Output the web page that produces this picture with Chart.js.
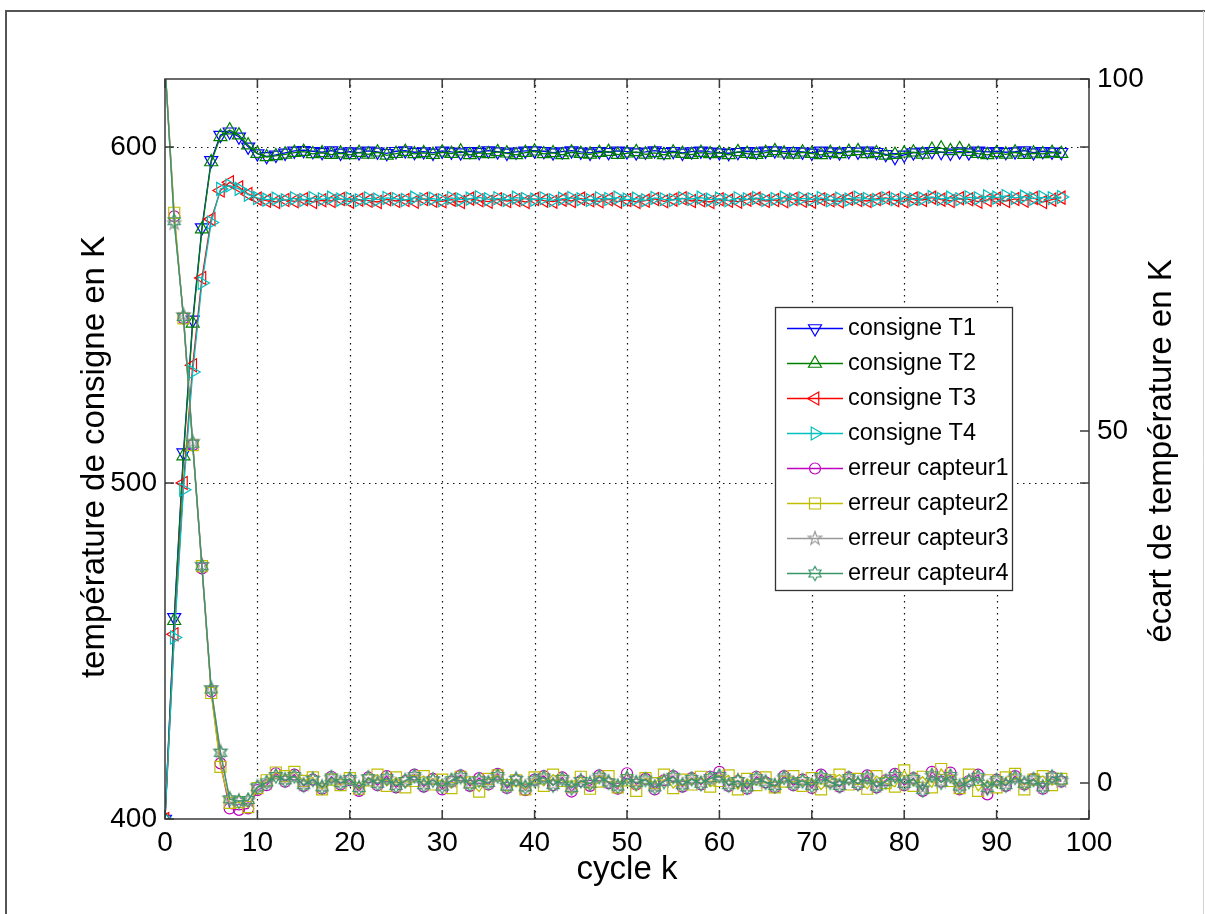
<!DOCTYPE html>
<html>
<head>
<meta charset="utf-8">
<script src="https://cdn.jsdelivr.net/npm/chart.js@4.4.1/dist/chart.umd.min.js"></script>
<style>
html,body{margin:0;padding:0;background:#fff;overflow:hidden}
#wrap{position:absolute;left:0;top:0;width:1205px;height:914px}
</style>
</head>
<body>
<div id="wrap"><canvas id="c" width="1205" height="914"></canvas></div>
<script>
// ---------- data ----------
const cycles = Array.from({length: 98}, (_, i) => i);   // cycle k = 0..97

const xTicks = [0, 10, 20, 30, 40, 50, 60, 70, 80, 90, 100];
const leftTicks = [400, 500, 600];
const rightTicks = [0, 50, 100];

const seriesLabels = ['consigne T1', 'consigne T2', 'consigne T3', 'consigne T4',
  'erreur capteur1', 'erreur capteur2', 'erreur capteur3', 'erreur capteur4'];

const consigneT1 = [
  400, 460, 509, 548.5, 576, 596, 603.5, 604.5, 603, 600,
  598, 597.2, 597.6, 598.2, 598.8, 599, 598.7, 598.4, 598.9, 598.2,
  598.6, 598.3, 598.8, 598.5, 598.1, 598.7, 598.9, 598.4, 598.6, 598.2,
  598.8, 598.5, 598.3, 598.7, 598.4, 598.9, 598.6, 598.2, 598.5, 598.8,
  598.9, 598.7, 598.3, 598.6, 598.9, 598.5, 598.2, 598.7, 598.4, 598.8,
  598.6, 598.3, 598.5, 598.9, 598.4, 598.7, 598.2, 598.6, 598.8, 598.5,
  598.3, 598.1, 598.4, 598.7, 598.5, 598.8, 598.9, 598.6, 598.7, 598.5,
  598.2, 598.8, 598.6, 598.3, 598.7, 598.5, 598.8, 598.4, 597.8, 596.9,
  597.6, 598.3, 598.5, 598.7, 598.4, 598.2, 598.6, 598.3, 598.8, 598.5,
  598.7, 598.4, 598.6, 598.9, 598.3, 598.7, 598.5, 598.4
];
const consigneT2 = [
  400, 459, 508, 547.5, 575.5, 595.5, 603, 605, 603.5, 600.5,
  598, 597, 597.3, 597.8, 598.3, 598.6, 597.9, 598.2, 597.7, 598.1,
  597.6, 598.3, 597.8, 598.4, 597.5, 598.0, 598.6, 597.9, 598.2, 597.7,
  598.4, 598.0, 598.7, 597.6, 598.2, 597.9, 598.5, 598.1, 597.6, 598.3,
  598.7, 597.9, 598.2, 597.6, 598.4, 598.0, 597.8, 598.3, 598.6, 597.7,
  598.1, 598.5, 597.8, 598.2, 597.6, 598.4, 598.0, 597.7, 598.3, 597.9,
  598.2, 597.6, 598.5, 598.0, 597.7, 598.3, 598.8, 598.1, 597.8, 598.4,
  598.0, 597.6, 598.3, 597.9, 598.6, 598.8, 597.9, 598.2, 597.5, 597.7,
  598.1, 598.4, 597.8, 599.2, 599.6, 598.8, 599.4, 598.6, 598.0, 597.6,
  598.2, 597.8, 598.4, 597.7, 598.1, 597.9, 598.3, 598.0
];
const consigneT3 = [
  400, 455, 500, 535, 561, 578.5, 587, 589.5, 588, 586,
  584.6, 584.0, 583.6, 584.2, 583.8, 584.4, 583.6, 584.1, 583.9, 584.5,
  583.7, 584.3, 584.0, 583.6, 584.4, 583.9, 584.2, 583.7, 584.5, 584.0,
  583.8, 584.3, 583.6, 584.6, 584.1, 583.7, 584.4, 583.9, 584.2, 583.6,
  584.5, 584.0, 583.7, 584.3, 583.9, 584.6, 584.1, 583.8, 584.4, 583.7,
  584.2, 583.6, 584.0, 584.5, 583.8, 584.3, 584.7, 583.9, 584.1, 583.6,
  584.4, 584.0, 583.7, 584.3, 584.6, 583.9, 584.2, 583.8, 584.5, 584.0,
  583.7, 584.4, 584.1, 583.8, 584.6, 584.2, 583.9, 584.5, 584.8, 584.1,
  583.8, 584.6, 584.2, 584.9, 584.3, 583.9, 584.7, 584.4, 583.7, 584.2,
  584.6, 583.9, 584.5, 584.0, 584.8, 583.6, 584.3, 584.9
];
const consigneT4 = [
  400, 454, 498, 533, 559.5, 577.5, 587.5, 588.5, 587.5, 585.8,
  584.8, 584.3, 584.6, 584.1, 584.7, 584.2, 584.8, 584.4, 584.9, 584.3,
  584.6, 584.1, 584.7, 584.3, 584.8, 584.5, 584.2, 584.9, 584.4, 584.6,
  584.1, 584.8, 584.3, 584.6, 585.0, 584.4, 584.7, 584.2, 584.9, 584.5,
  584.3, 584.7, 584.1, 584.6, 584.8, 584.4, 584.2, 584.7, 584.5, 584.9,
  584.3, 584.6, 584.1, 584.8, 584.4, 584.2, 584.7, 584.5, 584.9, 584.3,
  584.6, 584.1, 584.7, 584.4, 584.8, 584.2, 584.5, 584.9, 584.3, 584.7,
  584.4, 584.8, 584.1, 584.6, 584.3, 584.9, 584.5, 584.2, 584.7, 584.4,
  584.8, 584.3, 584.6, 585.1, 584.5, 584.9, 584.4, 585.0, 584.7, 585.3,
  584.9, 585.4, 584.8, 585.2, 584.6, 585.0, 584.7, 585.1
];
const erreurCapteur1 = [
  102, 80.5, 66, 48, 30.5, 13, 2.8, -3.6, -3.8, -3.6,
  -1.0, -0.3, 1.4, 0.2, 1.2, -0.4, 0.5, -0.8, 0.9, -0.2,
  0.4, -1.1, 0.8, -0.3, 1.0, -0.6, 0.3, 1.2, -0.5, 0.6,
  -0.9, 0.2, 1.1, -0.4, 0.7, -0.2, 1.3, -0.7, 0.4, -1.0,
  0.5, 1.0, -0.3, 0.8, -1.2, 0.3, -0.4, 1.1, 0.0, -0.8,
  1.4, -0.2, 0.6, -0.9, 0.4, 1.0, -0.5, 0.7, -0.2, 0.9,
  1.6, -0.4, 0.3, -0.8, 0.9, 0.1, -0.6, 1.0, -0.3, 0.5,
  -0.7, 1.2, 0.2, -0.5, 0.8, -0.2, 1.1, -0.6, 0.4, 1.3,
  -0.3, 0.7, -1.1, 1.6, 0.2, 1.5, -0.9, 0.3, 1.2, -1.6,
  0.5, -0.4, 1.0, -0.2, 0.6, -0.8, 0.9, 0.2
];
const erreurCapteur2 = [
  102, 81, 66, 48, 30.8, 12.8, 2.3, -2.8, -2.7, -3.4,
  -0.7, 0.4, 1.5, 1.0, 1.6, 0.3, 0.8, -0.9, 0.5, -0.3,
  0.7, -0.8, 0.4, 1.2, -0.4, 0.8, -0.6, 0.3, 1.0, -0.2,
  0.5, -0.7, 0.9, 0.1, -1.2, 0.6, 1.1, -0.3, 0.4, -0.9,
  0.8, -0.4, 1.2, 0.3, -0.5, 0.9, -0.8, 0.2, 1.0, -0.6,
  0.4, -1.1, 0.7, 0.0, 1.2, -0.7, 0.5, -0.2, 0.9, -0.5,
  0.3, 1.1, -0.9, 0.6, -0.3, 0.8, -0.6, 0.2, 1.0, -0.4,
  0.7, -0.9, 0.4, 1.2, -0.2, 0.6, -0.8, 1.0, 0.0, -0.5,
  1.8, -0.4, 0.9, -0.6, 2.0, 0.3, -0.7, 1.2, -1.1, 0.4,
  -0.6, 0.8, 1.3, -0.9, 0.5, 1.0, -0.3, 0.6
];
const erreurCapteur3 = [
  102, 79.5, 66.5, 48.5, 31, 13.5, 4.5, -2.2, -2.5, -2.5,
  -0.5, 0.0, 1.1, 0.5, 0.9, -0.2, 0.6, -0.5, 0.7, 0.1,
  0.5, -0.6, 0.8, 0.0, 0.6, -0.3, 0.4, 0.9, -0.2, 0.5,
  -0.4, 0.3, 0.8, -0.1, 0.5, 0.1, 0.9, -0.4, 0.6, -0.5,
  0.3, 0.7, -0.2, 0.5, -0.6, 0.4, 0.0, 0.8, 0.2, -0.4,
  0.6, 0.1, 0.4, -0.5, 0.3, 0.8, -0.2, 0.5, 0.0, 0.6,
  0.9, -0.2, 0.4, -0.5, 0.6, 0.2, -0.3, 0.7, 0.0, 0.4,
  -0.3, 0.8, 0.2, -0.3, 0.6, 0.0, 0.7, -0.4, 0.3, 0.9,
  0.0, 0.5, -0.7, 1.0, 0.2, 0.9, -0.4, 0.3, 0.8, -0.6,
  0.3, -0.2, 0.7, 0.0, 0.4, -0.5, 0.6, 0.3
];
const erreurCapteur4 = [
  102, 79.8, 66.2, 48.2, 30.8, 13.3, 4.3, -2.3, -2.6, -2.4,
  -0.6, 0.1, 1.0, 0.4, 1.0, -0.3, 0.5, -0.6, 0.8, 0.0,
  0.6, -0.7, 0.7, -0.1, 0.7, -0.4, 0.3, 1.0, -0.3, 0.4,
  -0.5, 0.4, 0.9, -0.2, 0.4, 0.0, 1.0, -0.5, 0.5, -0.6,
  0.4, 0.8, -0.3, 0.6, -0.7, 0.3, -0.1, 0.9, 0.1, -0.5,
  0.7, 0.0, 0.5, -0.6, 0.2, 0.9, -0.3, 0.6, -0.1, 0.7,
  1.0, -0.3, 0.3, -0.6, 0.7, 0.1, -0.4, 0.8, -0.1, 0.3,
  -0.4, 0.9, 0.1, -0.4, 0.7, -0.1, 0.8, -0.5, 0.2, 1.0,
  -0.1, 0.6, -1.0, 1.1, 0.1, 1.0, -0.5, 0.2, 0.9, -0.7,
  0.4, -0.3, 0.8, -0.1, 0.5, -0.6, 0.9, 0.4
];

// ---------- styles ----------
const FONT = '"Liberation Sans", Arial, Helvetica, sans-serif';
const TICK_SIZE = 28, TITLE_SIZE = 33, LEGEND_SIZE = 23.5;

function starCanvas(points, innerRatio, color, R) {
  const s = Math.ceil(2 * R + 4);
  const c = document.createElement('canvas');
  c.width = s; c.height = s;
  const g = c.getContext('2d');
  g.strokeStyle = color; g.lineWidth = 1.2;
  g.beginPath();
  for (let i = 0; i < 2 * points; i++) {
    const r = i % 2 ? innerRatio * R : R;
    const ang = -Math.PI / 2 + i * Math.PI / points;
    const px = s / 2 + r * Math.cos(ang), py = s / 2 + r * Math.sin(ang);
    if (i) g.lineTo(px, py); else g.moveTo(px, py);
  }
  g.closePath(); g.stroke();
  return c;
}

const colors = ['#0000ff', '#008000', '#ff0000', '#00bfbf', '#bf00bf', '#bfbf00', '#999999', '#3a9669'];
const pentagram = starCanvas(5, 0.40, colors[6], 7);
const hexagram = starCanvas(6, 0.58, colors[7], 7);
const markerStyles = ['triangle', 'triangle', 'triangle', 'triangle', 'circle', 'rect', pentagram, hexagram];
const markerRot = [180, 0, 270, 90, 0, 0, 0, 0];
const markerRadius = [7.5, 7.5, 7.5, 7.5, 5.5, 7.8, 7, 7];

const seriesValues = [consigneT1, consigneT2, consigneT3, consigneT4,
  erreurCapteur1, erreurCapteur2, erreurCapteur3, erreurCapteur4];

const datasets = seriesValues.map((vals, i) => ({
  label: seriesLabels[i],
  data: vals.map((v, k) => ({x: cycles[k], y: v})),
  yAxisID: i < 4 ? 'yL' : 'yR',
  borderColor: colors[i],
  backgroundColor: 'rgba(0,0,0,0)',
  borderWidth: 1.3,
  pointStyle: markerStyles[i],
  pointRotation: markerRot[i],
  pointRadius: markerRadius[i],
  pointBorderColor: colors[i],
  pointBackgroundColor: 'rgba(0,0,0,0)',
  pointBorderWidth: 1.2,
  tension: 0,
  fill: false,
  order: 7 - i,
  clip: i < 4 ? undefined : {left: 8, right: 8, top: 0, bottom: 8}
}));

function drawMarker(ctx, style, rot, r, x, y, color) {
  if (typeof style !== 'string') {
    ctx.drawImage(style, x - style.width / 2, y - style.height / 2);
    return;
  }
  ctx.save();
  ctx.strokeStyle = color; ctx.lineWidth = 1.2;
  ctx.beginPath();
  if (style === 'triangle') {
    let rad = rot * Math.PI / 180;
    for (let j = 0; j < 3; j++) {
      const px = x + Math.sin(rad) * r, py = y - Math.cos(rad) * r;
      if (j) ctx.lineTo(px, py); else ctx.moveTo(px, py);
      rad += 2 * Math.PI / 3;
    }
    ctx.closePath();
  } else if (style === 'circle') {
    ctx.arc(x, y, r, 0, Math.PI * 2);
  } else if (style === 'rect') {
    const s = Math.SQRT1_2 * r;
    ctx.rect(x - s, y - s, 2 * s, 2 * s);
  }
  ctx.stroke();
  ctx.restore();
}

const decorPlugin = {
  id: 'decor',
  beforeDraw(chart) {
    const ctx = chart.ctx;
    ctx.save();
    ctx.fillStyle = '#fff';
    ctx.fillRect(0, 0, chart.width, chart.height);
    ctx.strokeStyle = '#555'; ctx.lineWidth = 2;
    ctx.beginPath(); ctx.moveTo(6, 914); ctx.lineTo(6, 11); ctx.lineTo(1205, 11); ctx.stroke();
    ctx.strokeStyle = '#d4d4d4'; ctx.lineWidth = 1;
    ctx.beginPath(); ctx.moveTo(1203.5, 11); ctx.lineTo(1203.5, 914); ctx.stroke();
    ctx.restore();
  },
  beforeDatasetsDraw(chart) {
    const {ctx, chartArea: a, scales} = chart;
    ctx.save();
    ctx.strokeStyle = '#111'; ctx.lineWidth = 1.2;
    ctx.setLineDash([1.5, 4.5]);
    ctx.beginPath();
    for (const v of xTicks) {
      if (v <= scales.x.min || v >= scales.x.max) continue;
      const px = Math.round(scales.x.getPixelForValue(v)) + 0.5;
      ctx.moveTo(px, a.top); ctx.lineTo(px, a.bottom);
    }
    for (const v of leftTicks) {
      if (v <= scales.yL.min || v >= scales.yL.max) continue;
      const py = Math.round(scales.yL.getPixelForValue(v)) + 0.5;
      ctx.moveTo(a.left, py); ctx.lineTo(a.right, py);
    }
    ctx.stroke();
    ctx.restore();
  },
  afterDatasetsDraw(chart) {
    const {ctx, chartArea: a, scales} = chart;
    ctx.save();
    ctx.setLineDash([]);
    // axes box
    ctx.strokeStyle = '#3a3a3a'; ctx.lineWidth = 1.5;
    ctx.strokeRect(a.left, a.top, a.right - a.left, a.bottom - a.top);
    // inward tick marks
    const TL = 9;
    ctx.beginPath();
    for (const v of xTicks) {
      const px = scales.x.getPixelForValue(v);
      ctx.moveTo(px, a.bottom); ctx.lineTo(px, a.bottom - TL);
      ctx.moveTo(px, a.top); ctx.lineTo(px, a.top + TL);
    }
    for (const v of leftTicks) {
      const py = scales.yL.getPixelForValue(v);
      ctx.moveTo(a.left, py); ctx.lineTo(a.left + TL, py);
      ctx.moveTo(a.right, py); ctx.lineTo(a.right - TL, py);
    }
    for (const v of rightTicks) {
      const py = scales.yR.getPixelForValue(v);
      ctx.moveTo(a.right, py); ctx.lineTo(a.right - TL, py);
    }
    ctx.stroke();

    // axis titles
    ctx.fillStyle = '#000';
    ctx.font = TITLE_SIZE + 'px ' + FONT;
    ctx.textAlign = 'center'; ctx.textBaseline = 'middle';
    ctx.fillText('cycle k', (a.left + a.right) / 2, 870);
    ctx.save();
    ctx.translate(95, (a.top + a.bottom) / 2 + 8);
    ctx.rotate(-Math.PI / 2);
    ctx.fillText('température de consigne en K', 0, 0);
    ctx.restore();
    ctx.save();
    ctx.translate(1162, (a.top + a.bottom) / 2 + 2);
    ctx.rotate(-Math.PI / 2);
    ctx.fillText('écart de température en K', 0, 0);
    ctx.restore();

    // legend
    const bx = 775, by = 307, bw = 237, bh = 283;
    ctx.fillStyle = '#fff';
    ctx.fillRect(bx, by, bw, bh);
    ctx.strokeStyle = '#333'; ctx.lineWidth = 1.3;
    ctx.strokeRect(bx + 0.5, by + 0.5, bw, bh);
    ctx.font = LEGEND_SIZE + 'px ' + FONT;
    ctx.textAlign = 'left'; ctx.textBaseline = 'middle';
    chart.data.datasets.forEach((ds, i) => {
      const y = by + 21 + 35 * i;
      ctx.strokeStyle = ds.borderColor; ctx.lineWidth = 1.3;
      ctx.beginPath(); ctx.moveTo(787, y + 0.5); ctx.lineTo(843, y + 0.5); ctx.stroke();
      drawMarker(ctx, ds.pointStyle, ds.pointRotation, ds.pointRadius, 815, y + 0.5, ds.borderColor);
      ctx.fillStyle = '#000';
      ctx.fillText(ds.label, 848, y + 1);
    });
    ctx.restore();
  }
};

const tickFont = {family: FONT, size: TICK_SIZE};

new Chart(document.getElementById('c'), {
  type: 'line',
  data: {datasets},
  options: {
    responsive: false,
    animation: false,
    devicePixelRatio: 1,
    events: [],
    layout: {padding: {top: 79, left: 0, right: 0, bottom: 0}},
    plugins: {legend: {display: false}, tooltip: {enabled: false}, title: {display: false}},
    scales: {
      x: {
        type: 'linear', min: 0, max: 100,
        grid: {display: false, drawTicks: false},
        border: {display: false},
        ticks: {font: tickFont, color: '#000', padding: 7, autoSkip: false, maxRotation: 0},
        afterBuildTicks: s => { s.ticks = xTicks.map(v => ({value: v})); },
        afterFit: s => { s.height = 95; }
      },
      yL: {
        type: 'linear', position: 'left', min: 400, max: 620.2,
        grid: {display: false, drawTicks: false},
        border: {display: false},
        ticks: {font: tickFont, color: '#000', padding: 8},
        afterBuildTicks: s => { s.ticks = leftTicks.map(v => ({value: v})); },
        afterFit: s => { s.width = 165; }
      },
      yR: {
        type: 'linear', position: 'right', min: -5.1, max: 100,
        grid: {display: false, drawTicks: false},
        border: {display: false},
        ticks: {font: tickFont, color: '#000', padding: 8},
        afterBuildTicks: s => { s.ticks = rightTicks.map(v => ({value: v})); },
        afterFit: s => { s.width = 116; }
      }
    }
  },
  plugins: [decorPlugin]
});
</script>
</body>
</html>
